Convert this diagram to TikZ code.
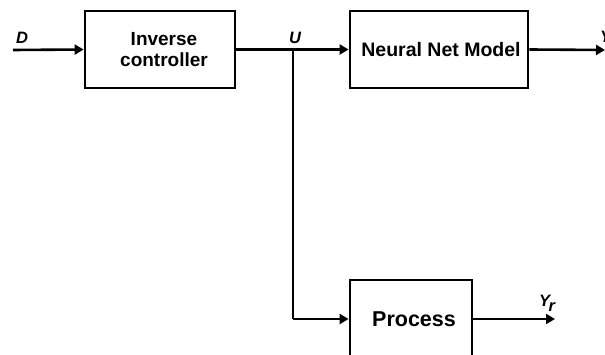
\documentclass[tikz,border=0pt]{standalone}
\usepackage{fontspec}
\setmainfont{Liberation Sans}
\usetikzlibrary{arrows.meta}
\begin{document}
\begin{tikzpicture}[x=1pt,y=-1pt,
  blk/.style={draw,line width=2.8pt,inner sep=0pt,align=center},
  conn/.style={line width=2.6pt,-{Triangle[length=9pt,width=10pt]}},
  wire/.style={line width=2.6pt},
  sig/.style={font=\fontsize{16.5}{18}\selectfont\bfseries\itshape,inner sep=0pt}]
\useasboundingbox (0,0) rectangle (605,355);
\node[blk,minimum width=150pt,minimum height=77pt,font=\fontsize{19}{21}\selectfont\bfseries] (ic) at (160,49.5)
  {\hspace*{8pt}Inverse\\\hspace*{8pt}controller};
\node[blk,minimum width=178pt,minimum height=77pt,font=\fontsize{19.5}{22}\selectfont\bfseries] (nn) at (439,49.5) {\hspace*{4pt}Neural Net Model};
\node[blk,minimum width=122pt,minimum height=78pt,font=\fontsize{21.5}{24}\selectfont\bfseries] (pr) at (411,319) {\hspace*{6pt}Process};
\coordinate (din) at (13,50);
\coordinate (j) at (293,50);
\coordinate (jd) at (293,319);
\coordinate (yout) at (605,50);
\coordinate (yrout) at (555,319);
\draw[conn] (din) -- (ic.west);
\draw[conn] (ic.east) -- (nn.west);
\draw[conn] (nn.east) -- (yout);
\draw[wire] (j) -- (jd);
\draw[conn] (jd) -- (pr.west);
\draw[conn] (pr.east) -- (yrout);
\node[sig] (lD) at (22,38) {D};
\node[sig] (lU) at (295,38) {U};
\node[sig,anchor=west] (lY) at (600,37) {Y};
\node[sig] (lYr) at (547,303) {Y\kern-1.5pt\raisebox{-5pt}{r}};
\end{tikzpicture}
\end{document}
